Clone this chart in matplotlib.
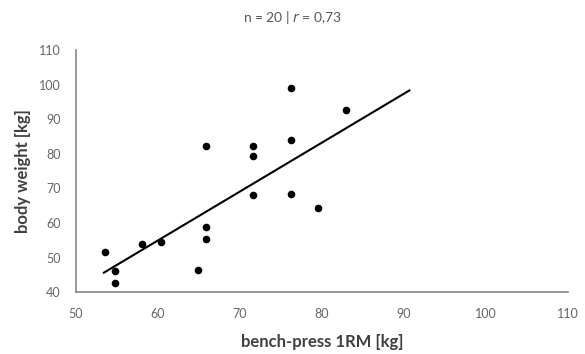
import matplotlib.pyplot as plt
import numpy as np

# data
bench_press = [53.5, 54.7, 54.7, 58.1, 60.3, 64.9, 65.9, 65.9, 65.9,
               71.6, 71.6, 71.6, 76.2, 76.2, 76.2, 79.5, 82.9]
body_weight = [51.6, 46.1, 42.6, 54.0, 54.5, 46.6, 82.4, 58.8, 55.3,
               82.4, 79.3, 68.0, 99.0, 83.9, 68.4, 64.3, 92.7]

# linear trendline as drawn in the reference (Excel, n = 20)
trend_x = [53.4, 90.65]
trend_slope = 1.412
trend_intercept = -29.7

x_ticks = [50, 60, 70, 80, 90, 100, 110]
y_ticks = [40, 50, 60, 70, 80, 90, 100, 110]

plt.rcParams['font.family'] = ['Lato', 'DejaVu Sans']

fig = plt.figure(figsize=(5.85, 3.54), dpi=100)
ax = fig.add_axes([0.130, 0.174, 0.841, 0.685])

ax.scatter(bench_press, body_weight, s=20, color='black', zorder=3)

tx = np.array(trend_x)
ax.plot(tx, trend_slope * tx + trend_intercept, color='black', linewidth=1.5)

ax.set_xlim(50, 110)
ax.set_ylim(40, 110)
ax.set_xticks(x_ticks)
ax.set_yticks(y_ticks)
ax.tick_params(length=0, labelsize=9, colors='#666666', pad=11)

for s in ['top', 'right']:
    ax.spines[s].set_visible(False)
for s in ['left', 'bottom']:
    ax.spines[s].set_color('#888888')
    ax.spines[s].set_linewidth(1.2)

ax.set_xlabel('bench-press 1RM [kg]', fontsize=12, fontweight='bold', color='#404040',
              va='center', ha='center')
ax.set_ylabel('body weight [kg]', fontsize=12, fontweight='bold', color='#404040',
              va='center', ha='center')
ax.xaxis.set_label_coords(0.5, -0.206)
ax.yaxis.set_label_coords(-0.108, 0.5)
fig.text(0.5, 0.95, r'n = 20 | $\it{r}$ = 0,73', ha='center', va='center',
         fontsize=10, color='#595959')

plt.savefig('out.png', dpi=100)
plt.close()
